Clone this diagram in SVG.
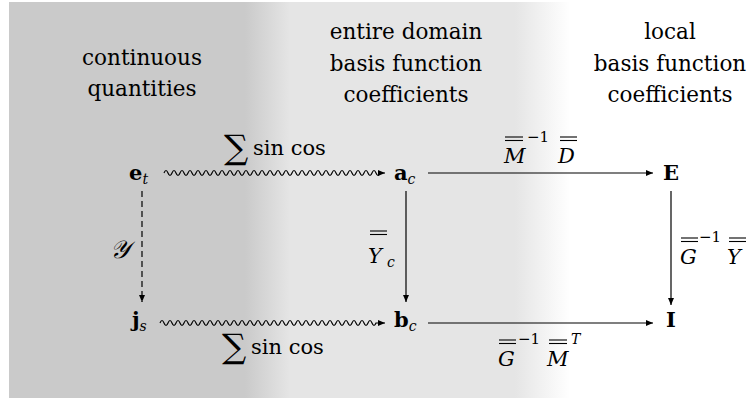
<svg xmlns="http://www.w3.org/2000/svg" width="750" height="400" viewBox="0 0 750 400">
<defs>
<linearGradient id="bg" gradientUnits="userSpaceOnUse" x1="9" y1="0" x2="750" y2="0">
<stop offset="0" stop-color="#cacaca"/>
<stop offset="0.3185" stop-color="#cacaca"/>
<stop offset="0.379" stop-color="#e5e5e5"/>
<stop offset="0.683" stop-color="#e5e5e5"/>
<stop offset="0.757" stop-color="#ffffff"/>
<stop offset="1" stop-color="#ffffff"/>
</linearGradient>
<marker id="ah" markerUnits="userSpaceOnUse" markerWidth="9" markerHeight="8" refX="8" refY="4" orient="auto">
<path d="M1,1 L8,4 L1,7 z" fill="#000"/>
</marker>
</defs>
<style>
.hdr{font-family:"DejaVu Serif","Liberation Serif",serif;font-size:21.5px;fill:#000;text-anchor:middle}
.m{font-family:"DejaVu Serif","Liberation Serif",serif;font-size:21px;fill:#000}
.b{font-weight:bold}
.i{font-style:italic}
.sub{font-style:italic;font-size:14px}
.sup{font-size:15px}
.sum{font-size:34px}
.cal{font-size:25px}
.ln{stroke:#000;stroke-width:1.2;fill:none}
.bar{stroke:#000;stroke-width:1.1}
</style>
<rect x="9" y="2" width="741" height="396" fill="url(#bg)"/>

<g id="headers">
<text class="hdr" x="142" y="65">continuous</text>
<text class="hdr" x="142" y="96">quantities</text>
<text class="hdr" x="406" y="39">entire domain</text>
<text class="hdr" x="406" y="71">basis function</text>
<text class="hdr" x="406" y="102">coefficients</text>
<text class="hdr" x="670" y="39">local</text>
<text class="hdr" x="670" y="71">basis function</text>
<text class="hdr" x="670" y="102">coefficients</text>
</g>

<g id="node-et"><text class="m" x="129" y="180"><tspan class="b">e</tspan><tspan class="sub" dy="4">t</tspan></text></g>
<g id="node-ac"><text class="m" x="394" y="180"><tspan class="b">a</tspan><tspan class="sub" dy="4">c</tspan></text></g>
<g id="node-E"><text class="m b" x="663" y="180">E</text></g>
<g id="node-js"><text class="m" x="132" y="327"><tspan class="b">j</tspan><tspan class="sub" dy="4">s</tspan></text></g>
<g id="node-bc"><text class="m" x="394" y="327"><tspan class="b">b</tspan><tspan class="sub" dy="4">c</tspan></text></g>
<g id="node-I"><text class="m b" x="666" y="327">I</text></g>

<g id="connectors">
<path class="ln" marker-end="url(#ah)" d="M164,173 q2,-5 4,0 q2,5 4,0 q2,-5 4,0 q2,5 4,0 q2,-5 4,0 q2,5 4,0 q2,-5 4,0 q2,5 4,0 q2,-5 4,0 q2,5 4,0 q2,-5 4,0 q2,5 4,0 q2,-5 4,0 q2,5 4,0 q2,-5 4,0 q2,5 4,0 q2,-5 4,0 q2,5 4,0 q2,-5 4,0 q2,5 4,0 q2,-5 4,0 q2,5 4,0 q2,-5 4,0 q2,5 4,0 q2,-5 4,0 q2,5 4,0 q2,-5 4,0 q2,5 4,0 q2,-5 4,0 q2,5 4,0 q2,-5 4,0 q2,5 4,0 q2,-5 4,0 q2,5 4,0 q2,-5 4,0 q2,5 4,0 q2,-5 4,0 q2,5 4,0 q2,-5 4,0 q2,5 4,0 q2,-5 4,0 q2,5 4,0 q2,-5 4,0 q2,5 4,0 q2,-5 4,0 q2,5 4,0 q2,-5 4,0 q2,5 4,0 q2,-5 4,0 q2,5 4,0 q2,-5 4,0 q2,5 4,0 q2,-5 4,0 q2,5 4,0 L385,173"/>
<path class="ln" marker-end="url(#ah)" d="M160,323 q2,-5 4,0 q2,5 4,0 q2,-5 4,0 q2,5 4,0 q2,-5 4,0 q2,5 4,0 q2,-5 4,0 q2,5 4,0 q2,-5 4,0 q2,5 4,0 q2,-5 4,0 q2,5 4,0 q2,-5 4,0 q2,5 4,0 q2,-5 4,0 q2,5 4,0 q2,-5 4,0 q2,5 4,0 q2,-5 4,0 q2,5 4,0 q2,-5 4,0 q2,5 4,0 q2,-5 4,0 q2,5 4,0 q2,-5 4,0 q2,5 4,0 q2,-5 4,0 q2,5 4,0 q2,-5 4,0 q2,5 4,0 q2,-5 4,0 q2,5 4,0 q2,-5 4,0 q2,5 4,0 q2,-5 4,0 q2,5 4,0 q2,-5 4,0 q2,5 4,0 q2,-5 4,0 q2,5 4,0 q2,-5 4,0 q2,5 4,0 q2,-5 4,0 q2,5 4,0 q2,-5 4,0 q2,5 4,0 q2,-5 4,0 q2,5 4,0 q2,-5 4,0 q2,5 4,0 q2,-5 4,0 q2,5 4,0 q2,-5 4,0 q2,5 4,0 L385,323"/>
<line class="ln" x1="428" y1="173" x2="653" y2="173" marker-end="url(#ah)"/>
<line class="ln" x1="428" y1="323" x2="653" y2="323" marker-end="url(#ah)"/>
<line class="ln" x1="142" y1="191" x2="142" y2="302" stroke-dasharray="6,4" marker-end="url(#ah)"/>
<line class="ln" x1="406" y1="191" x2="406" y2="302" marker-end="url(#ah)"/>
<line class="ln" x1="671" y1="191" x2="671" y2="305" marker-end="url(#ah)"/>
</g>

<g id="labels">
<text class="m sum" x="224" y="159">∑</text>
<text class="m" x="253" y="155">sin cos</text>
<text class="m sum" x="222" y="358">∑</text>
<text class="m" x="251" y="354">sin cos</text>

<text class="m i cal" x="110" y="258">𝒴</text>

<text class="m i" x="504" y="163">M</text>
<line class="bar" x1="505" y1="137" x2="523" y2="137"/><line class="bar" x1="505" y1="140.5" x2="523" y2="140.5"/>
<text class="m sup" x="527" y="142">−1</text>
<text class="m i" x="558" y="163">D</text>
<line class="bar" x1="560" y1="137" x2="577" y2="137"/><line class="bar" x1="560" y1="140.5" x2="577" y2="140.5"/>

<text class="m i" x="368" y="263">Y</text>
<text class="m sub" x="387" y="267">c</text>
<line class="bar" x1="370" y1="231" x2="387" y2="231"/><line class="bar" x1="370" y1="234.5" x2="387" y2="234.5"/>

<text class="m i" x="680" y="264">G</text>
<line class="bar" x1="681" y1="238" x2="698" y2="238"/><line class="bar" x1="681" y1="241.5" x2="698" y2="241.5"/>
<text class="m sup" x="699" y="242">−1</text>
<text class="m i" x="727" y="264">Y</text>
<line class="bar" x1="729" y1="238" x2="746" y2="238"/><line class="bar" x1="729" y1="241.5" x2="746" y2="241.5"/>

<text class="m i" x="498" y="366">G</text>
<line class="bar" x1="499" y1="340" x2="516" y2="340"/><line class="bar" x1="499" y1="343.5" x2="516" y2="343.5"/>
<text class="m sup" x="518" y="344">−1</text>
<text class="m i" x="547" y="366">M</text>
<line class="bar" x1="549" y1="340" x2="567" y2="340"/><line class="bar" x1="549" y1="343.5" x2="567" y2="343.5"/>
<text class="m sub" x="571" y="344">T</text>
</g>
</svg>
